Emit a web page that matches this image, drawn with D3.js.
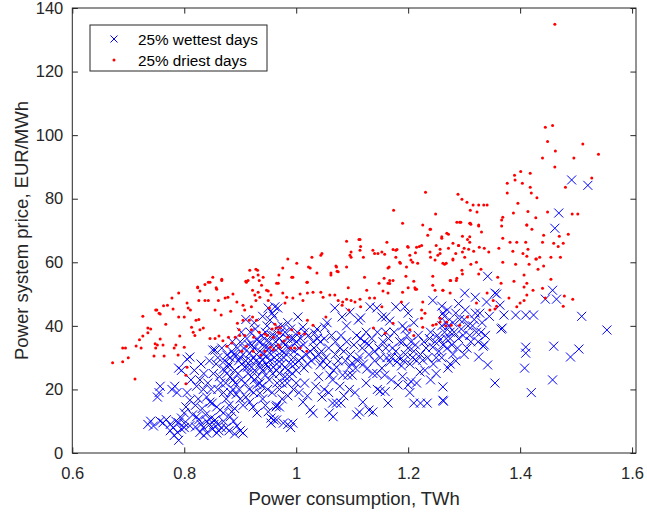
<!DOCTYPE html>
<html>
<head>
<meta charset="utf-8">
<script src="https://cdn.jsdelivr.net/npm/d3@7"></script>
<style>
    body { margin: 0; background: #fff; }
    svg { display: block; font-family: "Liberation Sans", Arial, Helvetica, sans-serif; }
</style>
</head>
<body>
<svg id="scatter"></svg>
<script>
const width = 647, height = 512
const margin = {top: 8, right: 11, bottom: 59, left: 72.3}

const xTicks = [0.6, 0.8, 1, 1.2, 1.4, 1.6]
const yTicks = [0, 20, 40, 60, 80, 100, 120, 140]
const seriesNames = ["25% wettest days", "25% driest days"]

// [consumption TWh, price EUR/MWh]
const wettest = [
    [0.735,9],[0.74,10],[0.745,8.5],[0.757,10],[0.762,9.5],[0.768,10.5],[0.775,9],[0.78,8],[0.785,10],[0.79,9.5],
    [0.795,11],[0.8,9.4],[0.775,7],[0.782,5.5],[0.788,6.5],[0.79,4],[0.795,7.5],[0.752,17.6],[0.757,21],[0.755,19],
    [0.778,20],[0.783,21],[0.787,19],[0.79,26.7],[0.795,26],[0.805,29.5],[0.81,30.2],[0.8,12.6],[0.803,14.5],[0.81,16.6],
    [0.8,8],[0.81,8.6],[0.82,8.2],[0.822,11.4],[0.826,10.5],[0.83,9],[0.834,8],[0.84,10],[0.845,9],[0.85,7.5],
    [0.858,6.3],[0.862,7],[0.866,8],[0.84,6.3],[0.822,21],[0.828,23],[0.834,20],[0.84,17.6],[0.846,16],[0.85,15.7],
    [0.858,14.5],[0.864,13.5],[0.87,12.6],[0.855,10.4],[0.86,9],[0.851,32.4],[0.855,32.4],[0.876,30.8],[0.882,30],[0.87,26.4],
    [0.876,25],[0.882,24],[0.887,23],[0.885,32],[0.892,30.5],[0.897,29],[0.903,28],[0.908,27],[0.887,20],[0.893,18.5],
    [0.9,17],[0.905,15],[0.882,11.4],[0.888,10],[0.894,8.5],[0.9,7],[0.905,6.3],[0.875,8],[0.91,17.6],[0.917,16],
    [0.923,14.5],[0.93,12.6],[0.914,25],[0.92,24],[0.925,23],[0.93,21.5],[0.935,22],[0.917,31.4],[0.923,30],[0.928,29],
    [0.935,28.3],[0.94,29.5],[0.947,30.5],[0.94,26],[0.945,24.5],[0.952,23],[0.958,25],[0.965,26],[0.935,18.8],[0.94,17],
    [0.945,15],[0.95,13],[0.955,11],[0.96,10.4],[0.965,15],[0.947,33.3],[0.952,35],[0.96,37],[0.967,39.6],[0.95,45.6],
    [0.964,14.5],[0.97,14.5],[0.965,10.4],[0.977,9.4],[0.985,9],[0.994,9.4],[0.99,8],[0.955,9.4],[0.97,20],[0.975,22],
    [0.98,24],[0.985,26],[0.99,28],[0.995,30],[0.97,30],[0.975,32],[0.98,34],[0.985,36],[0.99,33],[0.975,17],
    [0.985,18],[0.995,20],[1.0,22],[0.953,41.8],[0.96,43],[0.967,45.6],[0.88,28],[0.89,26],[0.895,33],[0.9,35],
    [0.905,31],[0.91,29],[0.915,34],[0.92,27],[0.925,33],[0.93,36],[0.935,32],[0.94,34],[0.945,38],[0.95,27],
    [0.955,31],[0.96,33],[0.965,28],[0.97,36],[0.975,40],[0.98,38],[0.985,41],[0.99,39],[0.995,36],[1.0,35],
    [1.0,26],[1.005,29],[0.86,20],[0.865,22],[0.87,19],[0.875,17],[0.88,15],[0.885,13],[0.89,14],
    [0.805,19],[0.812,23],[0.818,26],[0.825,17],[0.83,28],[0.835,25],[0.842,22],[0.845,29],[0.848,20],[0.815,12],
    [0.82,15],[0.832,14],[0.838,12],[0.828,6.5],[0.835,5.5],[0.848,11],[0.853,9],[0.87,10],[0.88,7],[0.89,6],
    [0.852,25],[0.857,28],[0.86,30],[0.863,24],[0.867,33],[0.872,29],[0.874,22],[0.878,27],[0.883,19],[0.886,35],
    [0.889,31],[0.891,22],[0.896,25],[0.898,20],[0.9,30],[0.902,23],
    [0.902,38],[0.906,33],[0.909,22],[0.912,36],[0.913,27],[0.916,20],[0.918,38],[0.919,29],[0.921,34],[0.924,19],
    [0.926,26],[0.927,39],[0.929,31],[0.931,24],[0.933,35],[0.936,27],[0.938,37],[0.939,21],[0.942,31],[0.943,36],
    [0.946,28],[0.948,40],[0.949,20],[0.951,33],[0.953,29],[0.956,37],[0.957,19],[0.959,27],[0.961,30],[0.963,35],
    [0.966,22],[0.968,33],[0.97,25],[0.972,38],[0.974,28],[0.976,35],[0.978,30],[0.98,27],[0.982,31],[0.984,22],
    [0.986,33],[0.988,24],[0.991,36],[0.993,25],[0.996,32],[0.998,28],[0.91,42],[0.925,41],[0.94,43],[0.957,44],
    [0.962,46],
    [1.003,42.8],[1.012,39.6],[1.015,38],[1.033,37.7],[1.038,36],[1.043,35],[1.051,39.6],[1.055,41],[1.069,45.6],[1.082,42.8],
    [1.096,44.3],[1.09,40],[1.111,41.8],[1.115,42.5],[1.132,46],[1.144,45.6],[1.153,42.8],[1.16,42.8],[1.167,41.5],[1.16,38],
    [1.178,46],[1.194,46],[1.2,44],[1.19,40],[1.195,39],[1.21,41],[1.244,48],[1.26,46.2],[1.262,44],[1.268,41],
    [1.005,33],[1.01,30],[1.014,26.7],[1.02,28],[1.025,32],[1.03,35],[1.035,30],[1.043,27.7],[1.048,29],[1.055,27.7],
    [1.06,24.5],[1.065,23],[1.07,31],[1.072,27],[1.078,33],[1.083,24.5],[1.088,29],[1.092,24.5],[1.1,24.5],[1.1,28.3],
    [1.106,26.7],[1.113,30.2],[1.118,33],[1.122,35],[1.126,26.4],[1.13,31],[1.137,25],[1.14,29],[1.144,25],[1.148,33],
    [1.153,26.7],[1.158,24.5],[1.162,30],[1.167,28.6],[1.172,33],[1.18,28.6],[1.185,35],[1.188,27.4],[1.195,31],[1.2,33],
    [1.203,28],[1.208,30],[1.213,34],[1.221,25.5],[1.226,29.2],[1.232,33],[1.238,36],[1.244,33.3],[1.25,30],[1.252,37],
    [1.257,35.6],[1.265,38],[1.27,33],[1.275,36],
    [1.002,38],[1.008,36],[1.013,34],[1.018,31],[1.022,37],[1.027,29],[1.032,33],[1.037,39],[1.04,31],[1.045,32],
    [1.05,36],[1.053,30],[1.058,33],[1.063,37],[1.067,26],[1.07,35],[1.075,29],[1.08,37],[1.085,32],[1.09,35],
    [1.095,27],[1.097,31],[1.103,34],[1.108,37],[1.11,29],
    [1.005,19],[1.015,22],[1.02,18],[1.035,21],[1.04,24],[1.05,20],[1.058,19],[1.078,21],[1.085,18],[1.095,20],
    [1.105,19],
    [1.115,36],[1.12,28],[1.125,38],[1.13,34],[1.135,36],[1.14,32],[1.145,38],[1.15,30],[1.155,35],[1.16,33],
    [1.165,36],[1.17,30],[1.175,38],[1.178,32],[1.183,30],[1.19,35],[1.192,29],[1.198,37],[1.205,35],[1.21,32],
    [1.215,29],[1.218,37],[1.222,31],[1.228,35],[1.23,26],[1.235,30],[1.24,38],[1.245,28],[1.248,35],[1.255,32],
    [1.26,30],[1.262,34],[1.268,36],[1.272,40],[1.278,34],[1.282,38],[1.288,33],[1.292,42],[1.298,37],[1.302,45],
    [1.307,40],[1.312,35],[1.318,42],[1.322,38],[1.328,44],[1.332,41],[1.338,37],[1.345,43],
    [1.125,22],[1.145,20],[1.17,23],[1.19,24],[1.215,22],[1.24,23],[1.25,25],[1.275,28],
    [1.012,16],[1.025,13.6],[1.03,12.5],[1.046,17.6],[1.065,15.7],[1.072,15.7],[1.08,15.7],[1.059,12.6],[1.066,11.4],[1.119,16],
    [1.113,12.9],[1.108,12],[1.137,12.9],[1.13,13.5],[1.159,19.3],[1.15,19.5],[1.164,15.7],[1.182,21.4],[1.2,21.4],[1.205,22.5],
    [1.203,19],[1.21,15.7],[1.222,15.7],[1.234,15.7],[1.262,20.8],[1.262,16.6],[1.271,26.7],[1.263,16.3],
    [1.26,40],[1.265,43],[1.27,45],[1.275,38],[1.28,41],[1.285,44],[1.29,47],[1.29,36],[1.295,39],[1.3,42],
    [1.301,50.3],[1.305,33],[1.31,37],[1.315,40],[1.32,49],[1.32,44],[1.325,35],[1.33,38],[1.334,33.6],[1.336,34],
    [1.34,47.5],[1.326,30.2],[1.342,27.7],[1.342,55.6],[1.355,50.3],[1.358,50],[1.364,46.5],[1.366,39],[1.368,39.3],[1.355,22],
    [1.28,31],[1.285,29],[1.3,31],
    [1.371,43.4],[1.392,43.4],[1.41,43.4],[1.424,43.4],[1.41,31.4],[1.41,33.3],[1.408,26.7],[1.42,19],[1.458,23],[1.46,33.6],
    [1.49,30.2],[1.505,32.7],[1.51,43],[1.555,38.7],[1.445,48.4],[1.465,48.4],[1.458,51.2],[1.462,70.7],[1.469,75.5],[1.492,85.9],
    [1.521,84.2]
]

const driest = [
    [0.672,28.4],[0.69,28.7],[0.70,30],[0.712,23.3],[0.69,33],[0.695,33],[0.714,33.7],[0.72,35.6],[0.723,33],[0.726,36.8],
    [0.726,43],[0.735,39.3],[0.74,39],[0.735,37.8],[0.749,45],[0.755,44],[0.751,45],[0.757,43.7],[0.763,46.3],[0.77,46.5],
    [0.78,45.3],[0.79,50.3],[0.778,48.8],[0.748,34.4],[0.752,34],[0.746,30.5],[0.749,33],[0.757,35.9],[0.762,34],[0.764,30.5],
    [0.767,40.5],[0.782,33],[0.785,34],[0.789,30.8],[0.792,36.8],[0.79,42.8],[0.8,33.3],[0.8,42.8],[0.805,47.2],[0.807,45.6],
    [0.811,45],[0.805,27],[0.803,24.5],[0.803,21.8],[0.813,39.6],[0.816,38],[0.821,41.8],[0.819,37],[0.826,42],[0.828,38.8],
    [0.824,52],[0.828,51],[0.826,48],[0.834,39.3],[0.837,48],[0.843,48],[0.846,53.7],[0.851,55.3],[0.857,52],[0.861,48],
    [0.867,54.3],[0.855,45],[0.866,43.4],[0.873,48.8],[0.878,49],[0.887,50],[0.883,44.6],[0.894,47.5],[0.846,36],[0.855,36],
    [0.862,36.8],[0.869,35.3],[0.876,33.6],[0.879,36.4],[0.885,34.6],[0.891,36.4],[0.895,40.8],[0.898,38.8],[0.899,37],[0.905,41.8],
    [0.908,37],[0.911,53.7],[0.914,54.3],[0.917,57.5],[0.928,57.8],[0.931,57.5],[0.923,55.3],[0.932,56],[0.934,54.3],[0.941,55.3],
    [0.938,52.8],[0.922,51.2],[0.926,49.7],[0.932,50.6],[0.935,49],[0.928,48],[0.92,46],[0.905,46.5],[0.908,45],[0.916,41.8],
    [0.922,42.8],[0.929,41.8],[0.934,38],[0.944,37.4],[0.948,37],[0.92,38.8],[0.924,36.4],[0.947,51.2],[0.95,48],[0.955,49.7],
    [0.952,45.6],[0.959,36.4],[0.959,32.5],[0.954,33.3],[0.944,32],[0.937,30.8],[0.923,32],[0.911,33.6],[0.903,32],[0.964,39.3],
    [0.968,38],[0.968,34],[0.824,52.2],[0.837,53],[0.843,53.7],[0.867,54.7],[0.858,51.5],[0.91,54],[0.95,51],[0.965,53.4],
    [0.969,56],[0.985,61],[0.994,55.3],[1.001,59.7],[1.019,53.7],[1.025,58.2],[1.028,61.6],[1.037,56.6],[1.046,62.8],[1.062,56.6],
    [1.073,57.2],[1.071,58.8],[1.09,58.5],[1.09,66.6],[1.096,62.2],[1.112,67.2],
    [1.19,72.3],[1.24,70.4],[1.235,68.5],[1.26,68],[1.269,69.1],[1.098,63.2],[1.114,63.8],[1.044,62.2],[0.976,58.2],[0.992,55.3],
    [0.968,53.4],[0.976,50.3],[0.983,49],[0.98,47.2],[0.994,48.8],[1.007,50],[1.012,48],[1.02,53.7],[1.022,58.5],[1.03,50.6],
    [1.02,50.3],[1.044,50.6],[1.048,49],[1.06,49.7],[1.069,49.7],[1.075,48],[1.083,47.5],[1.09,48.4],[1.098,48],[1.105,47.5],
    [1.114,48.4],[1.126,51.2],[1.131,48.8],[1.14,48.8],[1.148,53.4],[1.157,55],[1.164,53.4],[1.155,51],[1.164,50.3],[1.062,56],
    [1.075,57],[1.072,58.5],[1.093,52],[1.122,55.3],[1.137,63.8],[1.146,62.8],[1.158,62.5],[1.162,66.3],[1.178,63.8],[1.164,58.2],
    [1.178,61.6],[1.186,59.7],[1.197,58.5],[1.203,62.2],[1.199,65],[1.215,64.7],[1.224,65.3],[1.208,60],[1.217,59.7],[1.212,52],
    [1.215,51.5],[1.19,50.6],[1.188,47.5],[1.226,47.5],[1.224,45],[1.23,44],[1.239,63.2],[1.248,60.7],[1.253,62.2],[1.265,59.4],
    [1.244,55.6],[1.248,51.2],[1.262,51.2],[1.224,42.4],[1.226,39.6],[1.25,40.5],[1.257,41.2],[1.267,40],
    [0.957,39],[0.962,40.5],[0.971,39.5],[0.971,37.7],[0.978,35.2],[0.985,36.4],[0.99,33],[0.997,33],[1.007,33],[0.971,33.3],
    [0.992,38.8],[1.005,37.7],[1.015,37.4],[1.02,41.8],[1.03,40.2],[1.019,32],[1.053,42.8],[1.082,46.5],[1.094,45],[1.115,46],
    [1.138,39.3],[1.153,46],[1.159,37.7],[1.173,40.8],[1.203,38.8],[1.21,37],[1.244,40.2],
    [1.287,72.6],[1.294,72.6],[1.312,72],[1.326,71.4],[1.331,69.5],[1.367,71.4],[1.412,71.7],[1.421,70.4],[1.272,68.8],[1.297,68.2],
    [1.306,67.2],[1.31,66.3],[1.28,66],[1.29,65.3],[1.272,64.4],[1.285,62.8],[1.297,63.2],[1.308,64.1],[1.317,63.5],[1.327,64.7],
    [1.336,64.4],[1.344,63.2],[1.362,64.4],[1.369,67.6],[1.382,66.3],[1.387,63.5],[1.394,66.3],[1.41,66.3],[1.414,64.1],[1.405,62.8],
    [1.412,61.9],[1.442,68.5],[1.44,66.3],[1.46,66],[1.468,65],[1.477,66],[1.486,68.8],[1.47,68.2],[1.455,61.6],[1.472,61.6],
    [1.435,61.6],[1.429,61],[1.257,62.8],[1.262,59.7],[1.28,61],[1.301,61.6],[1.312,59.4],[1.322,60],[1.33,57.8],[1.326,56.3],
    [1.296,57.5],[1.297,56.3],[1.276,54.3],[1.286,54.3],[1.36,55.3],[1.369,60],[1.366,53.4],[1.392,59.4],[1.416,59.4],[1.428,61],
    [1.432,57.8],[1.442,58.8],[1.407,56],[1.412,53.4],[1.389,54],[1.407,52.2],[1.423,51.2],[1.412,49.7],[1.407,48],[1.4,47.2],
    [1.394,46],[1.38,48.8],[1.352,48],[1.341,50.3],[1.358,46.2],[1.355,45.3],[1.346,45],[1.322,47.2],[1.262,51.2],[1.275,50.3],
    [1.44,51.8],[1.455,54.7],[1.479,49.4],[1.477,46.2],[1.494,48.4],[1.445,48.8],[1.257,42.4],[1.269,41.2],[1.277,40.2],[1.292,40.2],
    [1.306,42.8],
    [1.462,134.9],[1.445,102.5],[1.458,103],[1.449,98],[1.463,95],[1.512,97.2],[1.54,94],[1.496,92.8],[1.44,92.8],[1.462,90],
    [1.528,86.5],[1.481,83.6],[1.401,88.6],[1.39,87.4],[1.418,88],[1.391,85.9],[1.404,84.9],[1.377,84.9],[1.418,83.6],[1.377,81.8],
    [1.42,81.8],[1.43,80.3],[1.396,78.6],[1.449,75.8],[1.414,76],[1.388,75.5],[1.428,74],[1.369,74.2],[1.367,73.3],[1.412,71.7],
    [1.493,75.2],[1.503,75.2],[1.231,82],[1.174,76.4],[1.249,75.2],[1.239,70.4],[1.289,81.4],[1.296,79.8],[1.305,78.9],[1.316,78],
    [1.326,78],[1.335,78],[1.341,78],[1.311,76.4],[1.323,75.8],[1.311,72.3],[1.326,71.7],
    [1.114,67.2],[1.115,65],[1.098,61.6],[1.12,61.6],[1.14,62.8],[1.153,63.2],[1.166,58.5],[1.173,64],[1.18,64],[1.185,60],
    [1.2,64.7],[1.205,60.7],[1.213,63],[1.22,65],[1.226,71.7],[1.24,61.6],[1.25,65.3],[1.26,67.6],[1.257,64.1],[1.268,59.7],
    [1.28,60.7],[1.29,65.3],[1.3,64.4],[1.31,68],[1.292,72.6],[1.31,72.3],[1.167,54.3],[1.173,54.3],[1.167,53.3],[1.196,55.6],
    [1.21,54],[1.2,52],[1.213,51.5],[1.244,52.8],[1.275,54.3],[1.287,55]
]

const axisColor = "#262626"
const wetColor = "#0000ff", dryColor = "#ff0000"

const svg = d3.select("svg#scatter")
    .attr("width", width)
    .attr("height", height)
    .attr("viewBox", [0, 0, width, height])

const xScale = d3.scaleLinear()
    .domain([0.6, 1.607])
    .range([margin.left, width - margin.right])

const yScale = d3.scaleLinear()
    .domain([0, 140])
    .range([height - margin.bottom, margin.top])

const x0 = xScale.range()[0], x1 = xScale.range()[1]
const y0 = yScale.range()[0], y1 = yScale.range()[1]
const tickLen = 5.6

// wet days: x markers
const cross = (g, r) => g.append("path")
    .attr("d", `M${-r},${-r}L${r},${r}M${-r},${r}L${r},${-r}`)
    .attr("fill", "none")
    .attr("stroke", wetColor)
    .attr("stroke-width", 1)

svg.append("g").classed("wettest", true)
    .selectAll("g")
    .data(wettest)
    .enter()
    .append("g")
    .attr("transform", d => `translate(${xScale(d[0])},${yScale(d[1])})`)
    .each(function () { cross(d3.select(this), 4.5) })

// dry days: dots
svg.append("g").classed("driest", true)
    .selectAll("circle")
    .data(driest)
    .enter()
    .append("circle")
    .attr("cx", d => xScale(d[0]))
    .attr("cy", d => yScale(d[1]))
    .attr("r", 1.5)
    .attr("fill", dryColor)

// box
svg.append("rect")
    .attr("x", x0).attr("y", y1)
    .attr("width", x1 - x0).attr("height", y0 - y1)
    .attr("fill", "none")
    .attr("stroke", axisColor)
    .attr("stroke-width", 1)

// X axis (bottom + top ticks, inward)
svg.append("g").classed("x-axis", true)
    .attr("transform", `translate(0, ${y0})`)
    .call(d3.axisBottom(xScale).tickValues(xTicks).tickSize(-tickLen).tickPadding(14).tickFormat(d3.format("")))
svg.append("g")
    .attr("transform", `translate(0, ${y1})`)
    .call(d3.axisTop(xScale).tickValues(xTicks).tickSize(-tickLen).tickFormat(""))

// Y axis (left + right ticks, inward)
svg.append("g").classed("y-axis", true)
    .attr("transform", `translate(${x0}, 0)`)
    .call(d3.axisLeft(yScale).tickValues(yTicks).tickSize(-tickLen).tickPadding(9))
svg.append("g")
    .attr("transform", `translate(${x1}, 0)`)
    .call(d3.axisRight(yScale).tickValues(yTicks).tickSize(-tickLen).tickFormat(""))

svg.selectAll(".domain").remove()
svg.selectAll(".tick line").attr("stroke", axisColor)
svg.selectAll(".tick text")
    .attr("fill", axisColor)
    .attr("font-size", 16.5)
    .attr("font-family", "Liberation Sans, Arial, sans-serif")

// axis labels
svg.append("text")
    .attr("x", (x0 + x1) / 2)
    .attr("y", 505)
    .attr("text-anchor", "middle")
    .attr("font-size", 18.5)
    .attr("fill", axisColor)
    .text("Power consumption, TWh")

svg.append("text")
    .attr("transform", `translate(28, ${(y0 + y1) / 2}) rotate(-90)`)
    .attr("text-anchor", "middle")
    .attr("font-size", 18.5)
    .attr("fill", axisColor)
    .text("Power system price, EUR/MWh")

// legend
const legend = svg.append("g").classed("legend", true)
legend.append("rect")
    .attr("x", 90).attr("y", 25)
    .attr("width", 177).attr("height", 46)
    .attr("fill", "#fff")
    .attr("stroke", axisColor)
    .attr("stroke-width", 1)

const rows = legend.selectAll("g.row")
    .data(seriesNames)
    .enter()
    .append("g").classed("row", true)
    .attr("transform", (d, i) => `translate(114, ${39 + i * 21})`)

rows.each(function (d, i) {
    const g = d3.select(this)
    if (i === 0) cross(g, 3.5)
    else g.append("circle").attr("r", 1.5).attr("fill", dryColor)
    g.append("text")
        .attr("x", 24)
        .attr("dy", "0.36em")
        .attr("font-size", 15.3)
        .attr("fill", "#000")
        .text(d)
})
</script>
</body>
</html>
